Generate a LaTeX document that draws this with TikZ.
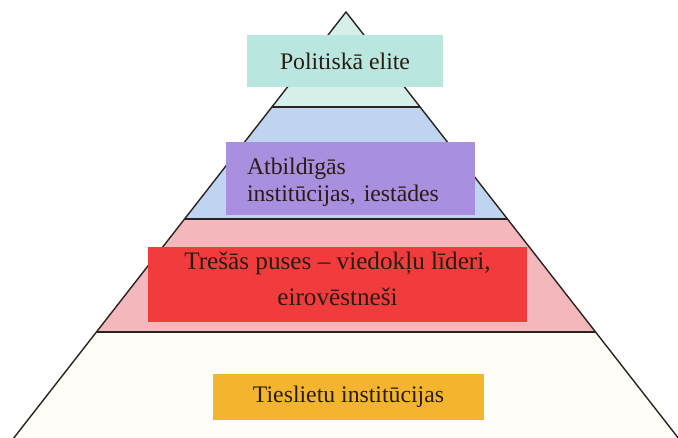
\documentclass[tikz,border=0pt]{standalone}
\usepackage{fontspec}
\setmainfont{Liberation Serif}
\definecolor{tritop}{HTML}{D5F0EB}
\definecolor{elitebox}{HTML}{BAE6E0}
\definecolor{bluelayer}{HTML}{BED4F1}
\definecolor{purplebox}{HTML}{A98FDF}
\definecolor{pinklayer}{HTML}{F4B7BB}
\definecolor{redbox}{HTML}{F23B3C}
\definecolor{orangebox}{HTML}{F4B52E}
\definecolor{bottomlayer}{HTML}{FEFDF8}
\definecolor{txt}{HTML}{2A1C14}
\definecolor{linec}{HTML}{2B2320}
\begin{document}
\begin{tikzpicture}[x=1pt,y=-1pt,
  slant/.style={draw=linec, line width=1.4pt, line cap=round},
  sepline/.style={draw=linec, line width=2pt},
  box/.style={inner sep=0pt, text=txt, font=\fontsize{23.75}{27}\selectfont}]
\useasboundingbox (0,0) rectangle (678,438);
% pyramid corner points
\coordinate (A) at (346,12);
\coordinate (L1) at (271.9,107);
\coordinate (R1) at (420.1,107);
\coordinate (L2) at (184.5,219);
\coordinate (R2) at (507.5,219);
\coordinate (L3) at (96.4,332);
\coordinate (R3) at (595.6,332);
\coordinate (L4) at (12.2,440);
\coordinate (R4) at (679.8,440);
% layer fills
\fill[tritop] (A) -- (R1) -- (L1) -- cycle;
\fill[bluelayer] (L1) -- (R1) -- (R2) -- (L2) -- cycle;
\fill[pinklayer] (L2) -- (R2) -- (R3) -- (L3) -- cycle;
\fill[bottomlayer] (L3) -- (R3) -- (R4) -- (L4) -- cycle;
% separators
\draw[sepline] (L1) -- (R1);
\draw[sepline] (L2) -- (R2);
\draw[sepline] (L3) -- (R3);
% sides
\draw[slant] (L4) -- (A) -- (R4);
% boxes
\node[box, fill=elitebox, minimum width=196pt, minimum height=52pt] (elite) at (345,61) {Politiskā elite};
\node[box, fill=purplebox, minimum width=249pt, minimum height=73pt,
      text width=207pt, align=left, font=\fontsize{23.75}{27}\selectfont] (inst) at (350.5,178.5)
      {\rule{0pt}{25pt}Atbildīgās\\institūcijas, iestādes};
\node[box, fill=redbox, minimum width=379pt, minimum height=75pt,
      align=center, font=\fontsize{25.2}{36}\selectfont] (third) at (337.5,284.5)
      {Trešās puses – viedokļu līderi,\\eirovēstneši\rule[-11pt]{0pt}{11pt}};
\node[box, fill=orangebox, minimum width=271pt, minimum height=46pt] (just) at (348.5,397)
      {Tieslietu institūcijas};
\end{tikzpicture}
\end{document}
